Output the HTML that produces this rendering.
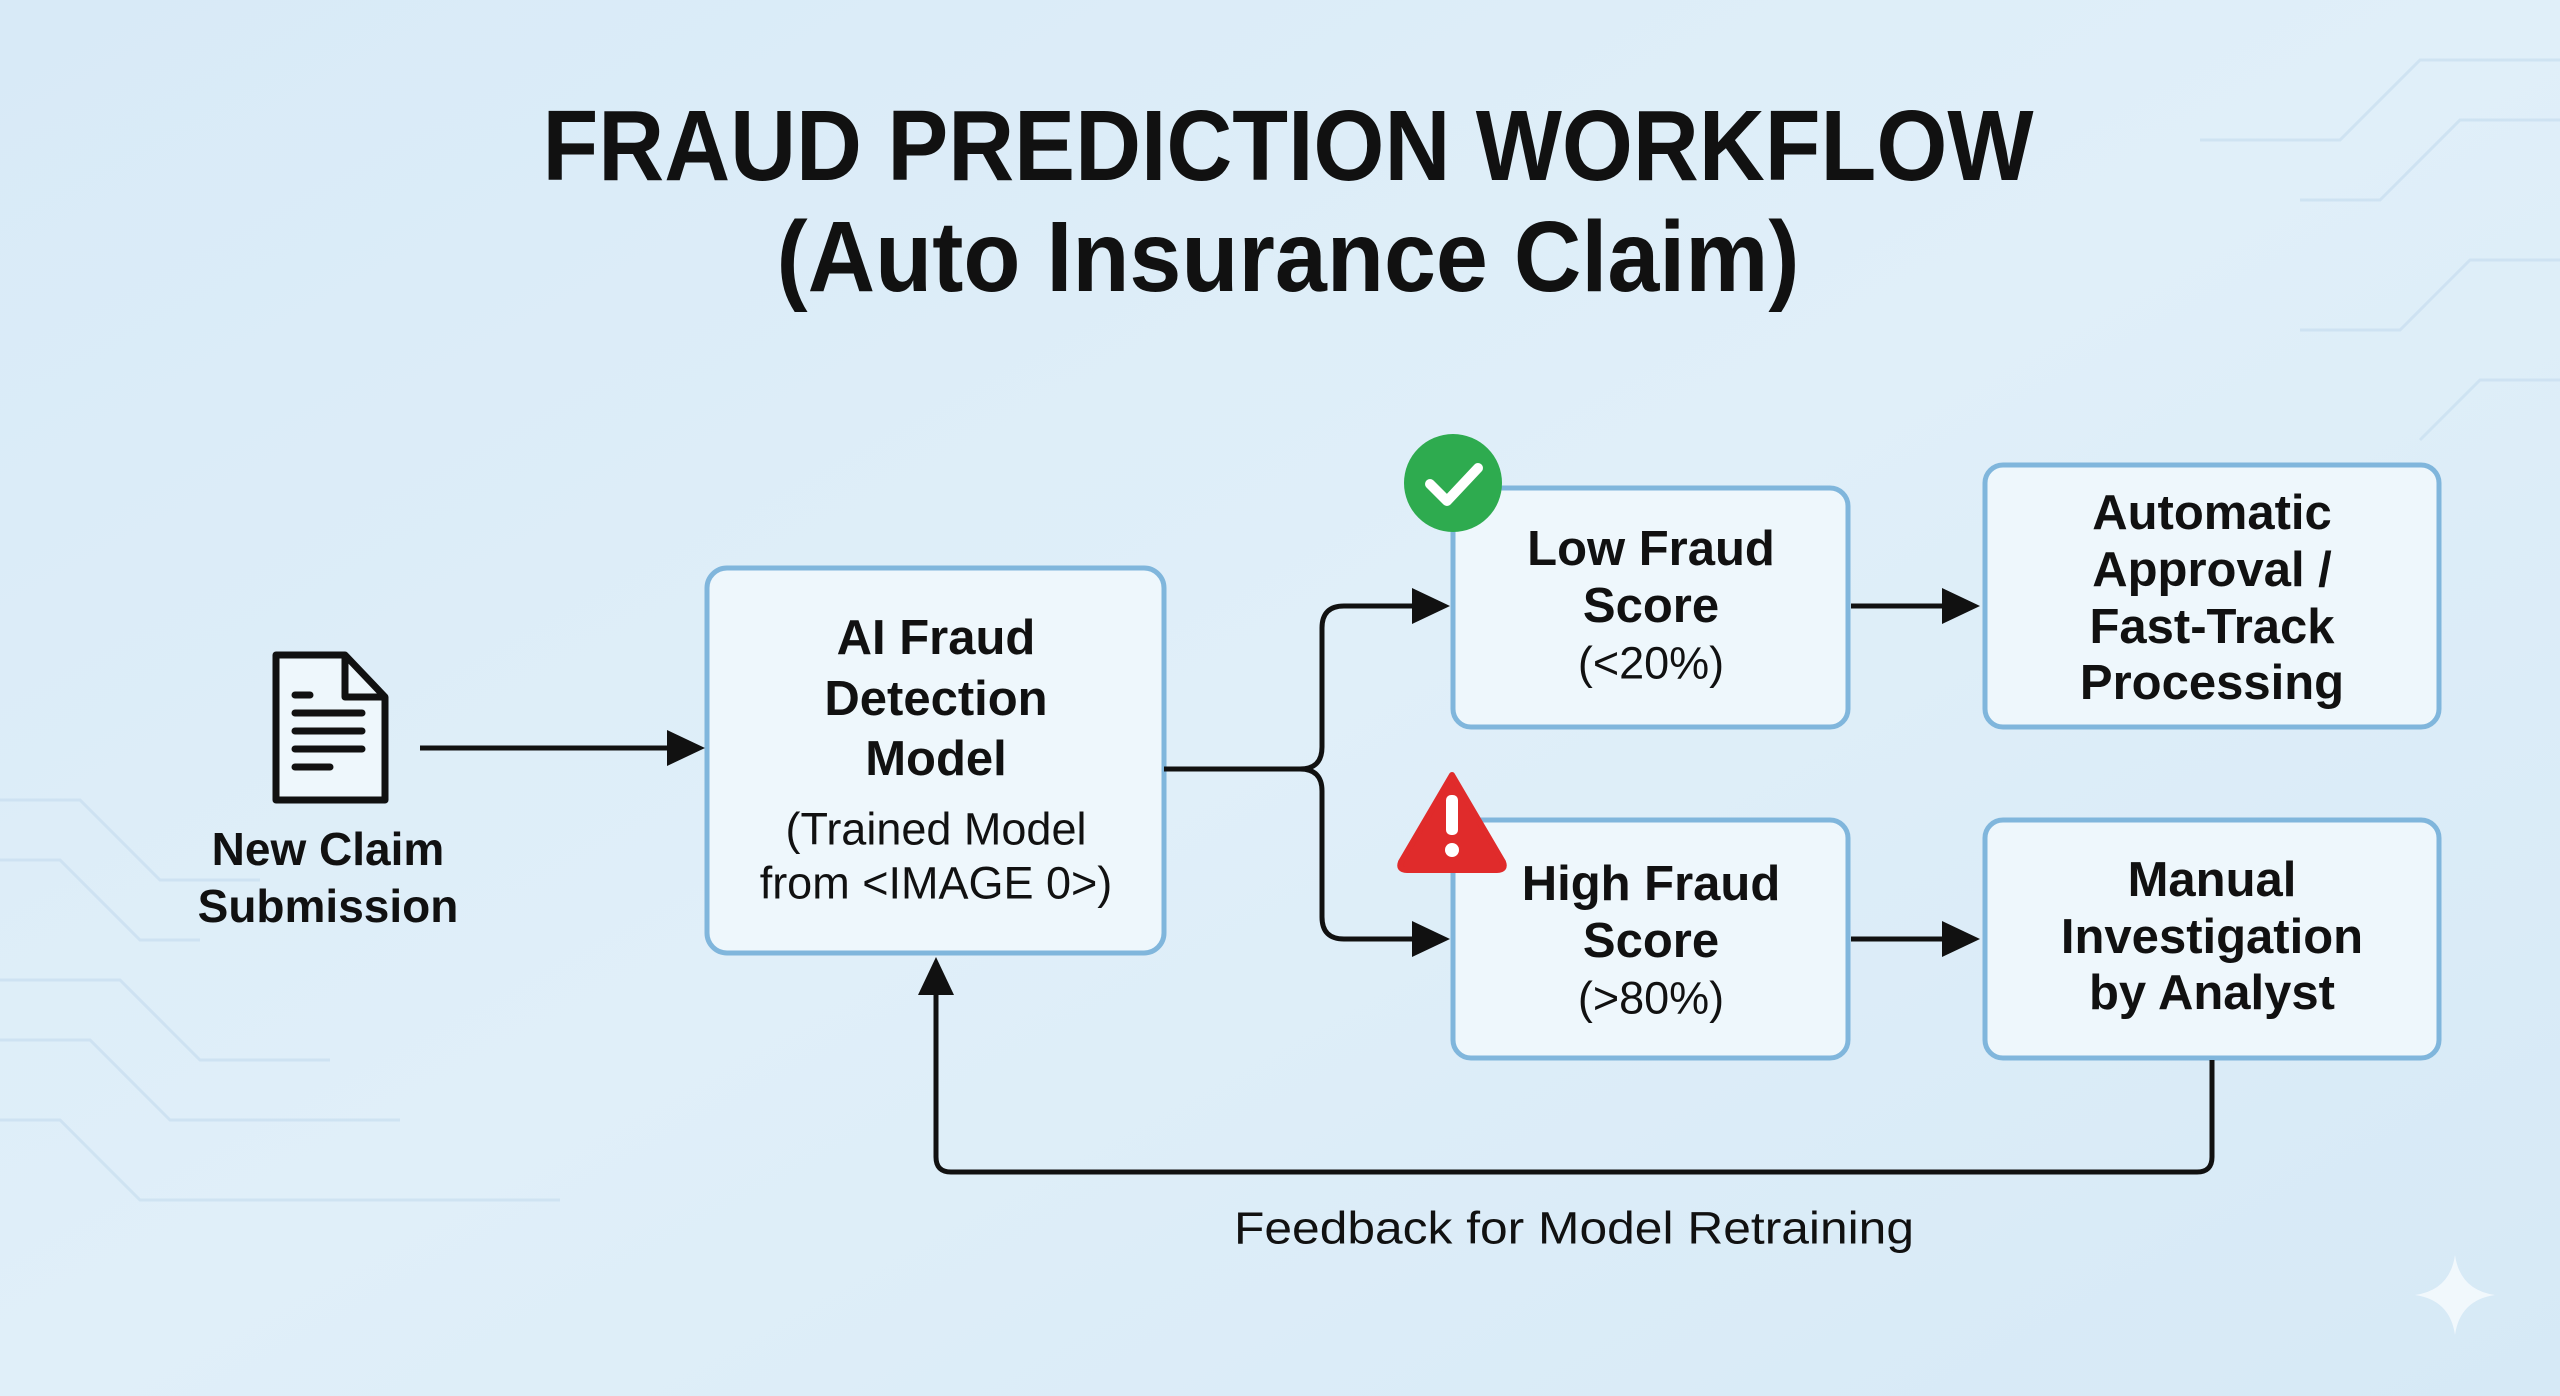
<!DOCTYPE html>
<html><head><meta charset="utf-8"><style>
html,body{margin:0;padding:0;width:2560px;height:1396px;overflow:hidden;background:#dcedf8}
svg{display:block}
text{font-family:"Liberation Sans",sans-serif;fill:#111}
.b{font-weight:bold}
</style></head><body>
<svg width="2560" height="1396" viewBox="0 0 2560 1396" xmlns="http://www.w3.org/2000/svg">
<defs>
<linearGradient id="bg" x1="0" y1="0" x2="1" y2="1">
<stop offset="0" stop-color="#d8eaf7"/><stop offset="0.5" stop-color="#e0eff9"/><stop offset="1" stop-color="#d6e9f6"/>
</linearGradient>
</defs>
<rect width="2560" height="1396" fill="url(#bg)"/>
<g stroke="#c8def0" stroke-width="3" fill="none" opacity="0.7">
<path d="M0 800 L80 800 L160 880 L260 880"/><path d="M0 860 L60 860 L140 940 L200 940"/>
<path d="M0 980 L120 980 L200 1060 L330 1060"/><path d="M0 1040 L90 1040 L170 1120 L400 1120"/>
<path d="M0 1120 L60 1120 L140 1200 L560 1200"/><path d="M2560 60 L2420 60 L2340 140 L2200 140"/>
<path d="M2560 120 L2460 120 L2380 200 L2300 200"/><path d="M2560 260 L2470 260 L2400 330 L2300 330"/>
<path d="M2560 380 L2480 380 L2420 440"/>
</g>
<text class="b" x="1288" y="180" font-size="100" text-anchor="middle" textLength="1491" lengthAdjust="spacingAndGlyphs">FRAUD PREDICTION WORKFLOW</text>
<text class="b" x="1288" y="291" font-size="100" text-anchor="middle" textLength="1023" lengthAdjust="spacingAndGlyphs">(Auto Insurance Claim)</text>
<g fill="#eef7fc" stroke="#80b6dc" stroke-width="5">
<rect x="707" y="568" width="457" height="385" rx="20"/>
<rect x="1453" y="488" width="395" height="239" rx="18"/>
<rect x="1453" y="820" width="395" height="238" rx="18"/>
<rect x="1985" y="465" width="454" height="262" rx="18"/>
<rect x="1985" y="820" width="454" height="238" rx="18"/>
</g>
<g stroke="#111" stroke-width="7" fill="#eef7fc" stroke-linejoin="round">
<path d="M276 655 L345 655 L385 697 L385 800 L276 800 Z"/>
<path d="M345 655 L345 697 L385 697" fill="none"/>
</g>
<g stroke="#111" stroke-width="7" stroke-linecap="round">
<line x1="295" y1="695" x2="310" y2="695"/><line x1="295" y1="713" x2="362" y2="713"/>
<line x1="295" y1="731" x2="362" y2="731"/><line x1="295" y1="749" x2="362" y2="749"/>
<line x1="295" y1="767" x2="330" y2="767"/>
</g>
<text class="b" x="328" y="849" font-size="46" text-anchor="middle" dominant-baseline="central">New Claim</text>
<text class="b" x="328" y="906" font-size="46" text-anchor="middle" dominant-baseline="central">Submission</text>
<g stroke="#111" stroke-width="5" fill="none">
<line x1="420" y1="748" x2="672" y2="748"/>
<path d="M1164 769 L1300 769 Q1322 769 1322 747 L1322 628 Q1322 606 1344 606 L1420 606"/>
<path d="M1300 769 Q1322 769 1322 791 L1322 917 Q1322 939 1344 939 L1420 939"/>
<line x1="1851" y1="606" x2="1950" y2="606"/>
<line x1="1851" y1="939" x2="1950" y2="939"/>
<path d="M2212 1060 L2212 1157 Q2212 1172 2197 1172 L951 1172 Q936 1172 936 1157 L936 990"/>
</g>
<g fill="#111">
<path d="M667 730 L705 748 L667 766 Z"/>
<path d="M1412 588 L1450 606 L1412 624 Z"/>
<path d="M1412 921 L1450 939 L1412 957 Z"/>
<path d="M1942 588 L1980 606 L1942 624 Z"/>
<path d="M1942 921 L1980 939 L1942 957 Z"/>
<path d="M918 995 L936 957 L954 995 Z"/>
</g>
<circle cx="1453" cy="483" r="49" fill="#2eab4f"/>
<path d="M1430 484 L1447 501 L1478 468" stroke="#fff" stroke-width="10" fill="none" stroke-linecap="round" stroke-linejoin="round"/>
<path d="M1452 775 L1503 862 Q1506 870 1497 870 L1407 870 Q1398 870 1401 862 Z" fill="#e02b2b" stroke="#e02b2b" stroke-width="6" stroke-linejoin="round"/>
<rect x="1446" y="795" width="12" height="40" rx="5" fill="#fff"/>
<circle cx="1452" cy="850" r="7" fill="#fff"/>
<g font-size="49" text-anchor="middle">
<text class="b" x="936" y="638" dominant-baseline="central">AI Fraud</text>
<text class="b" x="936" y="699" dominant-baseline="central">Detection</text>
<text class="b" x="936" y="759" dominant-baseline="central">Model</text>
<text class="b" x="1651" y="549" dominant-baseline="central">Low Fraud</text>
<text class="b" x="1651" y="606" dominant-baseline="central">Score</text>
<text class="b" x="1651" y="884" dominant-baseline="central">High Fraud</text>
<text class="b" x="1651" y="941" dominant-baseline="central">Score</text>
<text class="b" x="2212" y="513" dominant-baseline="central">Automatic</text>
<text class="b" x="2212" y="570" dominant-baseline="central">Approval /</text>
<text class="b" x="2212" y="627" dominant-baseline="central">Fast-Track</text>
<text class="b" x="2212" y="683" dominant-baseline="central">Processing</text>
<text class="b" x="2212" y="880" dominant-baseline="central">Manual</text>
<text class="b" x="2212" y="937" dominant-baseline="central">Investigation</text>
<text class="b" x="2212" y="993" dominant-baseline="central">by Analyst</text>
</g>
<g font-size="45" text-anchor="middle">
<text x="936" y="829" dominant-baseline="central">(Trained Model</text>
<text x="936" y="883" dominant-baseline="central">from &lt;IMAGE 0&gt;)</text>
<text x="1651" y="663" dominant-baseline="central">(&lt;20%)</text>
<text x="1651" y="998" dominant-baseline="central">(&gt;80%)</text>
<text x="1574" y="1228" dominant-baseline="central" textLength="680" lengthAdjust="spacingAndGlyphs">Feedback for Model Retraining</text>
</g>
<path d="M2455 1255 Q2460 1290 2495 1295 Q2460 1300 2455 1335 Q2450 1300 2415 1295 Q2450 1290 2455 1255 Z" fill="#f4f9fd" opacity="0.9"/>
</svg>
</body></html>
